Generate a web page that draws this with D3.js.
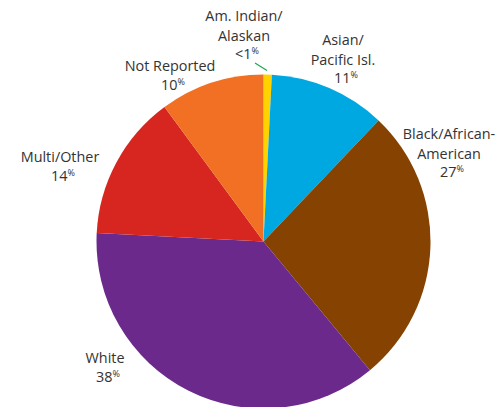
<!DOCTYPE html>
<html>
<head>
<meta charset="utf-8">
<script src="https://cdn.jsdelivr.net/npm/d3@7"></script>
<style>
    html, body { margin: 0; padding: 0; background: #fff; }
    svg { display: block; }
    .lbl { font-family: 'Open Sans', sans-serif; font-size: 14.4px; fill: #333; }
    .lbl .pct { font-size: 9px; }
</style>
</head>
<body>
<div id="chart"></div>
<script>
// slices, clockwise from 12 o'clock
const groups = ['Am. Indian/Alaskan', 'Asian/Pacific Isl.', 'Black/African-American', 'White', 'Multi/Other', 'Not Reported'];
const shares = [0.8, 11.3, 26.9, 36.8, 14.1, 10.1];
const shareLabels = ['<1', '11', '27', '38', '14', '10'];
const labelLines = [
    ['Am. Indian/', 'Alaskan'],
    ['Asian/', 'Pacific Isl.'],
    ['Black/African-', 'American'],
    ['White'],
    ['Multi/Other'],
    ['Not Reported']
];
const sliceColors = ['#ffd200', '#00a8e1', '#854200', '#6b2a8b', '#d6261f', '#f27024'];

let width = 496,
    height = 407,
    cx = 263.5,
    cy = 241.5,
    radius = 167;

// where each label block sits (center x, first baseline)
let labelPos = [
    [244, 21],
    [343, 45],
    [449, 139],
    [105, 363],
    [60, 162],
    [170, 71]
];
let lineH = 19.5;

let svg = d3.select('#chart')
    .append('svg')
    .attr('width', width)
    .attr('height', height);

let pie = d3.pie()
    .sort(null)
    .value(function(d) { return d; });

let arc = d3.arc()
    .innerRadius(0)
    .outerRadius(radius);

let pieGroup = svg.append('g')
    .attr('transform', 'translate(' + cx + ',' + cy + ')');

pieGroup.selectAll('path.slice')
    .data(pie(shares))
    .enter()
    .append('path')
    .attr('class', 'slice')
    .attr('d', arc)
    .attr('fill', function(d, i) { return sliceColors[i]; });

// leader for the tiny slice
svg.append('line')
    .attr('x1', 255)
    .attr('y1', 63)
    .attr('x2', 267)
    .attr('y2', 70.5)
    .attr('stroke', '#1ea64f')
    .attr('stroke-width', 1.2);

let labels = svg.selectAll('text.lbl')
    .data(groups)
    .enter()
    .append('text')
    .attr('class', 'lbl')
    .attr('text-anchor', 'middle');

labels.each(function(d, i) {
    let t = d3.select(this);
    let lines = labelLines[i];
    let x = labelPos[i][0],
        y = labelPos[i][1];
    lines.forEach(function(line, j) {
        t.append('tspan')
            .attr('x', x)
            .attr('y', y + j * lineH)
            .text(line);
    });
    t.append('tspan')
        .attr('x', x + 3)
        .attr('y', y + lines.length * lineH - 1)
        .text(shareLabels[i]);
    t.append('tspan')
        .attr('class', 'pct')
        .attr('dy', -5)
        .text('%');
});
</script>
</body>
</html>
